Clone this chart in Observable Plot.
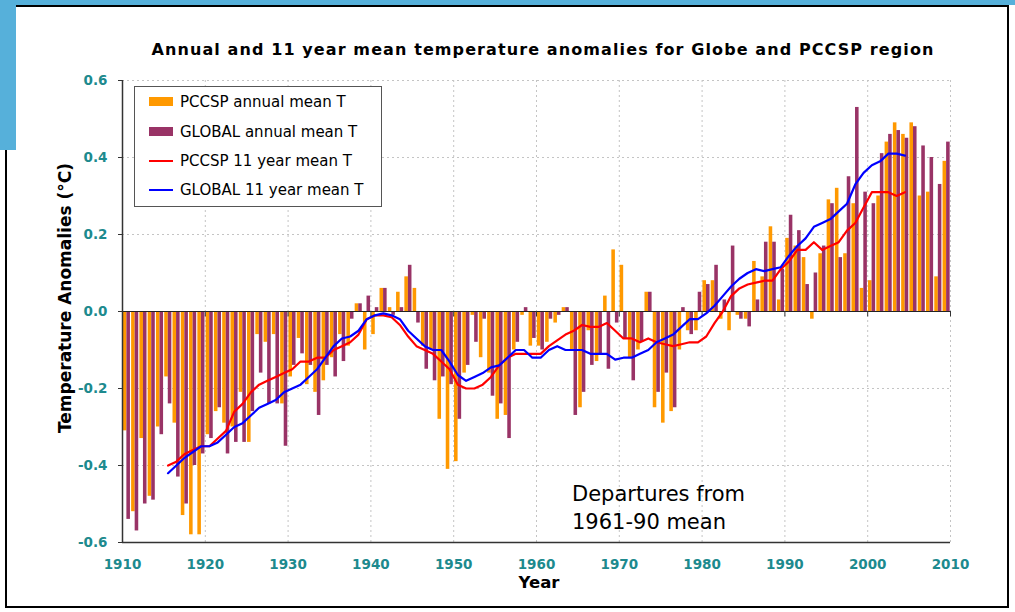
<!DOCTYPE html>
<html><head><meta charset="utf-8">
<script src="https://cdn.jsdelivr.net/npm/d3@7"></script>
<script src="https://cdn.jsdelivr.net/npm/@observablehq/plot@0.6"></script>
<style>
html,body{margin:0;padding:0;background:#fff;}
#wrap{position:relative;width:1015px;height:612px;overflow:hidden;font-family:"DejaVu Sans",sans-serif;color:#000;}
.frame{position:absolute;left:5px;top:5px;width:1000px;height:599px;border:2px solid #000;}
.bandTop{position:absolute;left:0;top:0;width:1015px;height:5px;background:#56b0da;}
.bandLeft{position:absolute;left:0;top:0;width:16px;height:150px;background:#56b0da;}
#chart{position:absolute;left:0;top:0;}
.title{position:absolute;left:100px;width:886px;top:40px;text-align:center;font-weight:bold;font-size:16px;letter-spacing:1.1px;white-space:nowrap;}
.ytitle{position:absolute;left:65px;top:298px;transform:translate(-50%,-50%) rotate(-90deg);font-weight:bold;font-size:17px;white-space:nowrap;}
.xtitle{position:absolute;left:539px;top:582px;transform:translate(-50%,-50%);font-weight:bold;font-size:16.5px;}
.legend{position:absolute;left:134px;top:86px;width:246px;height:119px;border:1px solid #555;background:#fff;}
.item{position:absolute;left:0;height:20px;width:246px;}
.sw{position:absolute;left:14px;width:24px;}
.lbl{position:absolute;left:45px;top:0;font-size:15px;line-height:20px;white-space:nowrap;}
.note{position:absolute;left:572px;top:480px;font-size:21px;line-height:28px;white-space:nowrap;}
</style></head><body>
<div id="wrap">
  <div class="frame"></div>
  <div class="bandTop"></div>
  <div class="bandLeft"></div>
  <div id="chart"></div>
  <div class="title" id="title"></div>
  <div class="ytitle" id="ytitle"></div>
  <div class="xtitle" id="xtitle"></div>
  <div class="legend" id="legend"></div>
  <div class="note" id="note"></div>
</div>
<script>
// ---- data ----
const years = d3.range(1910, 2010);
const pccspAnnual = [
 -0.31,-0.52,-0.33,-0.48,-0.30,-0.17,-0.29,-0.53,-0.58,-0.58,
 -0.32,-0.26,-0.29,-0.30,-0.21,-0.34,-0.06,-0.08,-0.06,-0.24,
 -0.17,-0.07,-0.19,-0.21,-0.18,-0.12,-0.06,-0.09, 0.02,-0.10,
 -0.06, 0.06, 0.01, 0.05, 0.09, 0.06,-0.09,-0.10,-0.28,-0.41,
 -0.39,-0.16,-0.01,-0.12,-0.16,-0.28,-0.27,-0.10,-0.01,-0.09,
 -0.09,-0.08,-0.03, 0.01,-0.10,-0.25,-0.05,-0.13, 0.04, 0.16,
  0.12,-0.12,-0.10, 0.05,-0.25,-0.29,-0.26,-0.10,-0.05,-0.05,
  0.08, 0.08,-0.02,-0.05,-0.01,-0.02, 0.13, 0.09, 0.22, 0.03,
  0.19, 0.17, 0.14,-0.02, 0.15, 0.29, 0.32, 0.15, 0.28, 0.06,
  0.08, 0.30, 0.44, 0.49, 0.46, 0.49, 0.30, 0.31, 0.09, 0.39];
const globalAnnual = [
 -0.54,-0.57,-0.50,-0.49,-0.32,-0.24,-0.43,-0.50,-0.40,-0.37,
 -0.33,-0.25,-0.37,-0.34,-0.34,-0.26,-0.16,-0.24,-0.24,-0.35,
 -0.14,-0.11,-0.14,-0.27,-0.14,-0.17,-0.13,-0.02, 0.02, 0.04,
  0.01, 0.06,-0.01, 0.01, 0.12,-0.03,-0.15,-0.18,-0.17,-0.19,
 -0.28,-0.14,-0.08,-0.02,-0.22,-0.24,-0.33,-0.08, 0.01,-0.07,
 -0.10,-0.02,-0.01, 0.01,-0.27,-0.21,-0.14,-0.11,-0.15,-0.03,
 -0.07,-0.18,-0.08, 0.05,-0.21,-0.16,-0.25, 0.01,-0.06, 0.05,
  0.07, 0.12, 0.03, 0.17,-0.02,-0.04, 0.03, 0.18, 0.18, 0.11,
  0.25, 0.21, 0.07, 0.10, 0.17, 0.28, 0.14, 0.35, 0.53, 0.31,
  0.28, 0.41, 0.46, 0.47, 0.45, 0.48, 0.43, 0.40, 0.33, 0.44];
const meanYears = d3.range(1915, 2005);
const pccsp11 = [
 -0.40,-0.39,-0.37,-0.36,-0.35,-0.35,-0.33,-0.31,-0.26,-0.24,
 -0.21,-0.19,-0.18,-0.17,-0.16,-0.15,-0.13,-0.13,-0.12,-0.12,
 -0.10,-0.09,-0.08,-0.06,-0.02,-0.01,-0.01,-0.015,-0.035,-0.065,
 -0.09,-0.10,-0.11,-0.13,-0.15,-0.19,-0.20,-0.20,-0.19,-0.17,
 -0.14,-0.12,-0.11,-0.11,-0.11,-0.11,-0.09,-0.075,-0.06,-0.05,
 -0.035,-0.04,-0.04,-0.03,-0.05,-0.07,-0.07,-0.08,-0.07,-0.08,
 -0.085,-0.09,-0.085,-0.08,-0.08,-0.065,-0.03,0.00,0.04,0.06,
  0.07,0.075,0.08,0.08,0.11,0.13,0.16,0.16,0.18,0.16,
  0.17,0.18,0.21,0.23,0.27,0.31,0.31,0.31,0.30,0.31];
const global11 = [
 -0.42,-0.40,-0.38,-0.365,-0.35,-0.35,-0.34,-0.32,-0.30,-0.29,
 -0.27,-0.25,-0.24,-0.23,-0.21,-0.20,-0.19,-0.17,-0.15,-0.12,
 -0.09,-0.07,-0.065,-0.05,-0.02,-0.01,-0.005,-0.01,-0.02,-0.05,
 -0.07,-0.09,-0.10,-0.10,-0.13,-0.165,-0.18,-0.17,-0.16,-0.145,
 -0.14,-0.12,-0.10,-0.10,-0.12,-0.12,-0.10,-0.09,-0.10,-0.10,
 -0.10,-0.11,-0.11,-0.11,-0.125,-0.12,-0.12,-0.11,-0.10,-0.08,
 -0.07,-0.06,-0.04,-0.02,-0.02,-0.005,0.015,0.04,0.065,0.085,
  0.10,0.11,0.105,0.11,0.115,0.145,0.17,0.19,0.22,0.23,
  0.24,0.26,0.28,0.33,0.36,0.38,0.39,0.41,0.41,0.405];
const xTicks = [1910,1920,1930,1940,1950,1960,1970,1980,1990,2000,2010];
const yTicks = [-0.6,-0.4,-0.2,0,0.2,0.4,0.6];
const seriesNames = ["PCCSP annual mean T","GLOBAL annual mean T","PCCSP 11 year mean T","GLOBAL 11 year mean T"];
const colors = ["#FF9900","#993366","#FF0000","#0000FF"];
const titleText = "Annual and 11 year mean temperature anomalies for Globe and PCCSP region";
const yLabel = "Temperature Anomalies (°C)";
const xLabel = "Year";
const noteLines = ["Departures from","1961-90 mean"];

// ---- build ----
const bars = years.map((y,i)=>({year:y, pccsp:pccspAnnual[i], global:globalAnnual[i]}));
const means = meanYears.map((y,i)=>({year:y, pccsp:pccsp11[i], global:global11[i]}));
const teal = "#1d8a8e";

const chart = Plot.plot({
  width:1015, height:612,
  marginLeft:122, marginRight:65, marginTop:80, marginBottom:70,
  style:{fontFamily:"DejaVu Sans", background:"transparent", overflow:"visible"},
  x:{domain:[1910,2010]},
  y:{domain:[-0.6,0.6]},
  marks:[
    Plot.gridX(xTicks.slice(1), {stroke:"#c4c4c4", strokeOpacity:1, strokeDasharray:"2,3"}),
    Plot.gridY(yTicks.filter(d=>d!==0 && d!==-0.6), {stroke:"#c4c4c4", strokeOpacity:1, strokeDasharray:"2,3"}),
    Plot.rect(bars, {x1:d=>d.year+0.1, x2:d=>d.year+0.53, y1:d=>0, y2:"pccsp", fill:colors[0]}),
    Plot.rect(bars, {x1:d=>d.year+0.53, x2:d=>d.year+0.96, y1:d=>0, y2:"global", fill:colors[1]}),
    Plot.ruleY([0], {stroke:"#222", strokeWidth:1.2}),
    Plot.ruleX(xTicks, {y1:d=>0, y2:d=>-0.014, stroke:"#333"}),
    Plot.lineY(means, {x:d=>d.year+0.5, y:"pccsp", stroke:colors[2], strokeWidth:2.2}),
    Plot.lineY(means, {x:d=>d.year+0.5, y:"global", stroke:colors[3], strokeWidth:2.2}),
    Plot.ruleX([1910], {stroke:"#333", strokeWidth:1.5}),
    Plot.ruleY([-0.6], {stroke:"#333", strokeWidth:1.5}),
    Plot.axisX(xTicks, {anchor:"bottom", tickSize:0, tickPadding:17, tickFormat:d=>String(d), label:null,
      fill:teal, fontWeight:"bold", fontSize:13.5}),
    Plot.axisY(yTicks, {anchor:"left", tickSize:4, tickPadding:11, tickFormat:d=>d.toFixed(1), label:null,
      fill:teal, fontWeight:"bold", fontSize:13.5, stroke:"#333"})
  ]
});
document.getElementById("chart").appendChild(chart);

document.getElementById("title").textContent = titleText;
document.getElementById("ytitle").textContent = yLabel;
document.getElementById("xtitle").textContent = xLabel;
const note = document.getElementById("note");
noteLines.forEach((t,i)=>{ if(i) note.appendChild(document.createElement("br")); note.appendChild(document.createTextNode(t)); });

const legend = document.getElementById("legend");
const rowTops = [5,35,64,93];
seriesNames.forEach((name,i)=>{
  const item = document.createElement("div");
  item.className="item"; item.style.top = rowTops[i]+"px";
  const sw = document.createElement("div"); sw.className="sw";
  if(i<2){ sw.style.top="5px"; sw.style.height="9px"; sw.style.background=colors[i]; }
  else { sw.style.top="9px"; sw.style.height="2px"; sw.style.background=colors[i]; }
  const lb = document.createElement("div"); lb.className="lbl"; lb.textContent=name;
  item.appendChild(sw); item.appendChild(lb); legend.appendChild(item);
});
</script>
</body></html>
